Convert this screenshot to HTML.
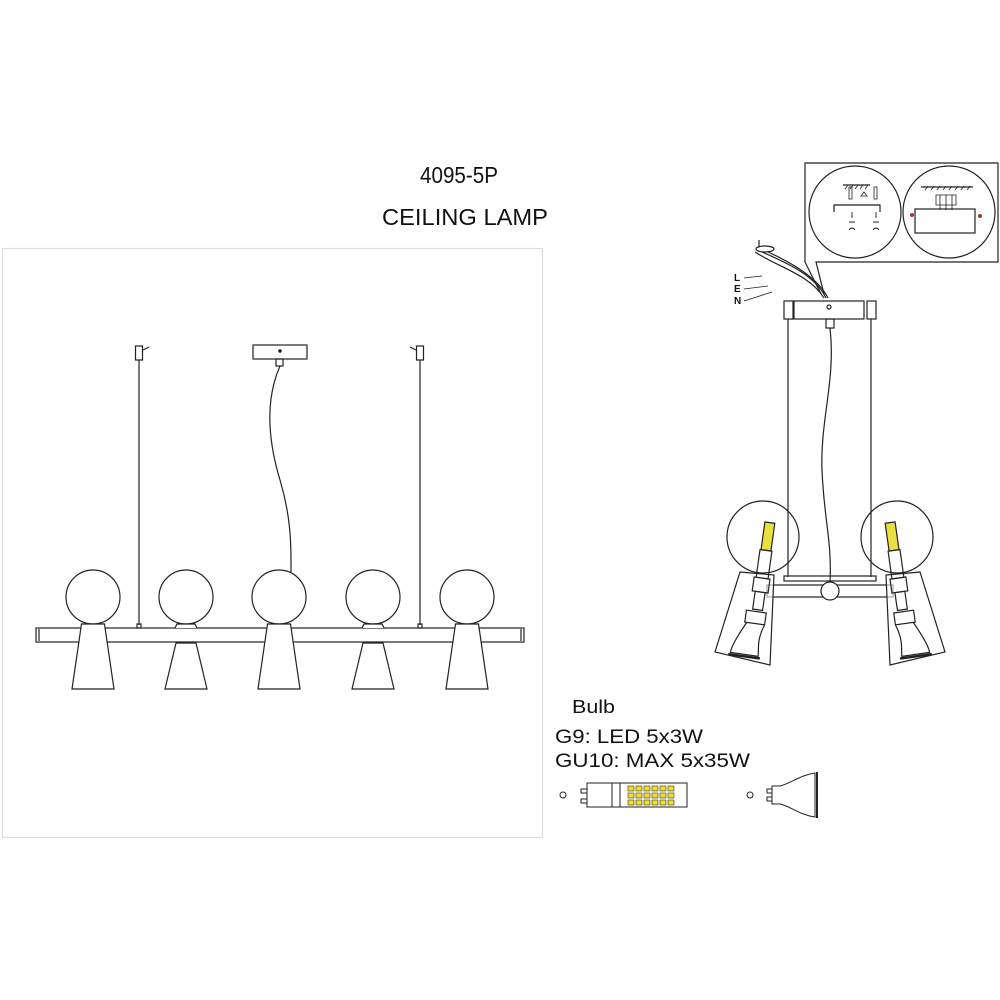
<!DOCTYPE html>
<html><head><meta charset="utf-8"><style>
html,body{margin:0;padding:0;background:#fff;}
svg{display:block;}
text{font-family:"Liberation Sans",sans-serif;fill:#111;}
</style></head><body>
<svg width="1000" height="1000" viewBox="0 0 1000 1000" xmlns="http://www.w3.org/2000/svg">
<rect x="0" y="0" width="1000" height="1000" fill="#fff"/>
<text x="420" y="183" font-size="23" textLength="78" lengthAdjust="spacingAndGlyphs">4095-5P</text>
<text x="382" y="225" font-size="23" textLength="166" lengthAdjust="spacingAndGlyphs">CEILING  LAMP</text>
<rect x="2.5" y="248.5" width="540" height="589" fill="none" stroke="#ddd" stroke-width="1.2"/>

<g stroke="#222" stroke-width="1.2" fill="none">
 <line x1="139" y1="360" x2="139" y2="625"/>
 <line x1="420" y1="360" x2="420" y2="625"/>
 <rect x="135.5" y="346" width="7" height="14"/>
 <rect x="416.5" y="346" width="7" height="14"/>
 <line x1="143" y1="350" x2="149" y2="347"/>
 <line x1="416" y1="350" x2="410" y2="347"/>
 <rect x="137" y="624" width="4" height="4" />
 <rect x="418" y="624" width="4" height="4" />
 <rect x="253" y="345" width="54" height="14"/>
 <circle cx="280" cy="351" r="1.2" fill="#222"/>
 <rect x="276" y="359" width="7" height="7"/>
 <path d="M280 366 C 265 400, 268 440, 280 480 C 292 520, 291 550, 291 572"/>
 <rect x="36" y="628" width="488" height="14"/>
 <line x1="39" y1="629" x2="39" y2="641"/>
 <line x1="521" y1="629" x2="521" y2="641"/>
 <g fill="#fff">
 <circle cx="93" cy="597" r="27"/>
 <circle cx="186" cy="597" r="27"/>
 <circle cx="279" cy="597" r="27"/>
 <circle cx="373" cy="597" r="27"/>
 <circle cx="467" cy="597" r="27"/>
 <polygon points="81.5,624 104.5,624 114,689 72,689"/>
 <polygon points="267.5,624 290.5,624 300,689 258,689"/>
 <polygon points="455.5,624 478.5,624 488,689 446,689"/>
 <polygon points="176,643 196,643 207,689 165,689"/>
 <polygon points="363,643 383,643 394,689 352,689"/>
 <path d="M175 628 L177 624 L195 624 L197 628"/>
 <path d="M362 628 L364 624 L382 624 L384 628"/>
 </g>
</g>

<g stroke="#222" stroke-width="1.2" fill="none">
 <path d="M805 262 L805 163 L998 163 L998 262 L816 262 L824 294 M805 262 L821 294"/>
 <circle cx="855" cy="212" r="46"/>
 <circle cx="949" cy="212" r="46"/>
 <line x1="843" y1="185" x2="870" y2="185"/>
 <path d="M845 189l3-4M850 189l3-4M855 189l3-4M860 189l3-4M865 189l3-4" stroke-width="0.8"/>
 <rect x="849" y="187" width="3" height="12" stroke-width="0.8"/>
 <rect x="874" y="187" width="3" height="12" stroke-width="0.8"/>
 <path d="M861 196 l3 -4 l3 4 z" stroke-width="0.8"/>
 <path d="M834 212 L834 205 L880 205 L880 212" stroke-width="1.2"/>
 <path d="M852 212 v6 M876 212 v6 M849 222 h6 M873 222 h6 M849 230 q3 -4 6 0 M873 230 q3 -4 6 0" stroke-width="0.9"/>
 <line x1="921" y1="187" x2="973" y2="187"/>
 <path d="M925 190l3-4M931 190l3-4M937 190l3-4M943 190l3-4M949 190l3-4M955 190l3-4M961 190l3-4M967 190l3-4" stroke-width="0.8"/>
 <rect x="915" y="209" width="60" height="24"/>
 <path d="M936 195 h20 v10 h-20z" stroke-width="0.8"/>
 <path d="M940 195 v15 M946 195 v15 M952 195 v15" stroke-width="0.8"/>
 <circle cx="912" cy="215" r="2" fill="#a33" stroke="none"/>
 <circle cx="980" cy="216" r="2" fill="#a33" stroke="none"/>
 <path d="M755 252 C 780 268, 810 275, 824 298" />
 <path d="M762 252 C 785 262, 815 275, 826 298" />
 <path d="M768 252 C 790 262, 818 278, 828 298" />
 <path d="M744 278 L 762 276 M744 289 L 768 286 M744 301 L 772 292" stroke-width="0.8"/>
 <ellipse cx="765" cy="249" rx="9" ry="3"/>
 <line x1="759" y1="240" x2="759" y2="247"/>
 <rect x="794" y="301" width="70" height="18"/>
 <circle cx="829" cy="307" r="2"/>
 <rect x="826" y="319" width="8" height="9"/>
 <rect x="784" y="301" width="9" height="18"/>
 <rect x="867" y="301" width="9" height="18"/>
 <line x1="788" y1="319" x2="788" y2="577"/>
 <line x1="871" y1="319" x2="871" y2="577"/>
 <path d="M830 328 C 836 380, 820 420, 822 470 C 824 520, 832 540, 830 582"/>
 <rect x="784" y="576" width="92" height="5"/>
 <rect x="767" y="585" width="126" height="12"/>
 <circle cx="830" cy="591" r="9" fill="#fff"/>
 <circle cx="763" cy="537" r="36"/>
 <circle cx="897" cy="537" r="36"/>
 <polygon points="740,572 774,575 770,665 715,652" fill="#fff" fill-opacity="0.6"/>
 <polygon points="920,572 886,575 890,665 945,652" fill="#fff" fill-opacity="0.6"/>
 <g transform="translate(760,600) rotate(8)">
  <rect x="-6" y="-78" width="10" height="28" fill="#e8e040"/>
  <rect x="-7" y="-50" width="12" height="28"/>
  <rect x="-9" y="-22" width="16" height="14"/>
  <rect x="-6" y="-8" width="10" height="18"/>
  <path d="M-12 12 h20 v12 h-20z M-10 24 C -18 40, -22 50, -22 56 h28 C 6 50, 2 40, 8 24"/>
  <line x1="-24" y1="58" x2="8" y2="58" stroke-width="2.5"/>
 </g>
 <g transform="translate(900,600) rotate(-8)">
  <rect x="-4" y="-78" width="10" height="28" fill="#e8e040"/>
  <rect x="-5" y="-50" width="12" height="28"/>
  <rect x="-7" y="-22" width="16" height="14"/>
  <rect x="-4" y="-8" width="10" height="18"/>
  <path d="M-8 12 h20 v12 h-20z M-8 24 C -2 40, -6 50, -6 56 h28 C 22 50, 18 40, 10 24"/>
  <line x1="-8" y1="58" x2="24" y2="58" stroke-width="2.5"/>
 </g>
</g>
<g font-family="Liberation Serif" font-weight="bold" font-size="10">
 <text x="734" y="281">L</text><text x="734" y="292">E</text><text x="734" y="304">N</text>
</g>

<text x="572" y="713" font-size="18" textLength="43" lengthAdjust="spacingAndGlyphs">Bulb</text>
<text x="555" y="743" font-size="19" textLength="148" lengthAdjust="spacingAndGlyphs">G9: LED  5x3W</text>
<text x="555" y="767" font-size="19" textLength="195" lengthAdjust="spacingAndGlyphs">GU10: MAX  5x35W</text>
<g stroke="#222" stroke-width="1" fill="none">
 <circle cx="563" cy="795" r="3"/>
 <path d="M587 789 h-6 v4 h6 M587 799 h-6 v4 h6"/>
 <rect x="587" y="783" width="25" height="24"/>
 <rect x="612" y="783" width="75" height="24"/>
 <line x1="620" y1="783" x2="620" y2="807"/>
 <circle cx="750" cy="795" r="3"/>
 <path d="M767 789 h5 v4 h-5z M767 797 h5 v4 h-5z"/>
 <path d="M772 786 v18 h8 C 790 806, 800 815, 815 817 L815 773 C 800 775, 790 784, 780 786 z"/>
 <line x1="817" y1="772" x2="817" y2="818" stroke-width="2"/>
</g>
<g fill="#f0e020" stroke="#333" stroke-width="0.6">
 <rect x="628" y="786" width="6" height="5"/><rect x="636" y="786" width="6" height="5"/><rect x="644" y="786" width="6" height="5"/><rect x="652" y="786" width="6" height="5"/><rect x="660" y="786" width="6" height="5"/><rect x="668" y="786" width="6" height="5"/>
 <rect x="628" y="793" width="6" height="5"/><rect x="636" y="793" width="6" height="5"/><rect x="644" y="793" width="6" height="5"/><rect x="652" y="793" width="6" height="5"/><rect x="660" y="793" width="6" height="5"/><rect x="668" y="793" width="6" height="5"/>
 <rect x="628" y="800" width="6" height="5"/><rect x="636" y="800" width="6" height="5"/><rect x="644" y="800" width="6" height="5"/><rect x="652" y="800" width="6" height="5"/><rect x="660" y="800" width="6" height="5"/><rect x="668" y="800" width="6" height="5"/>
</g>
</svg>
</body></html>
